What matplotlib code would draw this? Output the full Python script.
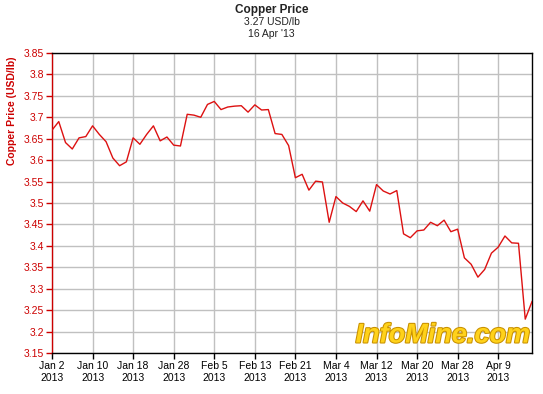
import matplotlib
matplotlib.use("Agg")
import matplotlib.pyplot as plt
import matplotlib.patheffects as pe

plt.rcParams['font.family'] = ['Liberation Sans', 'DejaVu Sans']

# daily LME copper price, trading days Jan 2 - Apr 16 2013
prices = [
    3.670, 3.690, 3.641, 3.626, 3.652, 3.655, 3.680, 3.660, 3.643, 3.605,
    3.587, 3.596, 3.652, 3.637, 3.660, 3.680, 3.645, 3.654, 3.635, 3.633,
    3.707, 3.705, 3.700, 3.730, 3.737, 3.718, 3.724, 3.726, 3.727, 3.712,
    3.729, 3.717, 3.718, 3.662, 3.660, 3.634, 3.559, 3.567, 3.530, 3.551,
    3.549, 3.455, 3.515, 3.500, 3.492, 3.480, 3.505, 3.481, 3.543, 3.528,
    3.521, 3.529, 3.428, 3.419, 3.435, 3.437, 3.455, 3.447, 3.460, 3.433,
    3.439, 3.372, 3.357, 3.327, 3.345, 3.383, 3.397, 3.423, 3.407, 3.406,
    3.229, 3.270,
]
tick_labels = ['Jan 2', 'Jan 10', 'Jan 18', 'Jan 28', 'Feb 5', 'Feb 13',
               'Feb 21', 'Mar 4', 'Mar 12', 'Mar 20', 'Mar 28', 'Apr 9']
tick_year = '2013'
y_ticks = [3.15, 3.2, 3.25, 3.3, 3.35, 3.4, 3.45, 3.5, 3.55, 3.6,
           3.65, 3.7, 3.75, 3.8, 3.85]

red = '#cc0000'

fig = plt.figure(figsize=(5.43, 3.94), dpi=100)
ax = fig.add_axes([52 / 543, 41 / 394, 480 / 543, 300 / 394])

x = list(range(len(prices)))
ax.plot(x, prices, color='#dd1111', linewidth=1.0, zorder=3)

ax.set_xlim(0, len(prices) - 1)
ax.set_ylim(3.15, 3.85)
ax.set_xticks([i * 6 for i in range(len(tick_labels))])
ax.set_xticklabels([f'{t}\n{tick_year}' for t in tick_labels], fontsize=7.5)
ax.set_yticks(y_ticks)
ax.set_yticklabels([f'{v:g}' for v in y_ticks], fontsize=7.5, color=red)

ax.grid(True, color='#c0c0c0', linewidth=1.0)
ax.set_axisbelow(True)
ax.tick_params(axis='x', length=4, width=1, pad=2, colors='black')
ax.tick_params(axis='y', length=4, width=1, pad=2, color=red)
ax.spines['left'].set_color(red)
for s in ['top', 'right', 'bottom']:
    ax.spines[s].set_color('black')
for s in ax.spines.values():
    s.set_linewidth(1.0)

ax.set_ylabel('Copper Price (USD/lb)', fontsize=7.5, fontweight='bold', color=red)
ax.yaxis.set_label_coords(-0.072, 0.807)

fig.text(0.5, 1 - 10 / 394, 'Copper Price', ha='center', va='center',
         fontsize=8.5, fontweight='bold', color='#222222')
fig.text(0.5, 1 - 22 / 394, '3.27 USD/lb', ha='center', va='center',
         fontsize=7.5, color='#222222')
fig.text(0.5, 1 - 34 / 394, "16 Apr '13", ha='center', va='center',
         fontsize=7.5, color='#222222')

ax.text(0.997, 0.015, 'InfoMine.com', transform=ax.transAxes, ha='right',
        va='bottom', fontsize=19.5, fontweight='bold', style='italic',
        color='#ffd21a', zorder=2,
        path_effects=[pe.withStroke(linewidth=1.5, foreground='#c89000')])

fig.savefig('out.png', dpi=100)
